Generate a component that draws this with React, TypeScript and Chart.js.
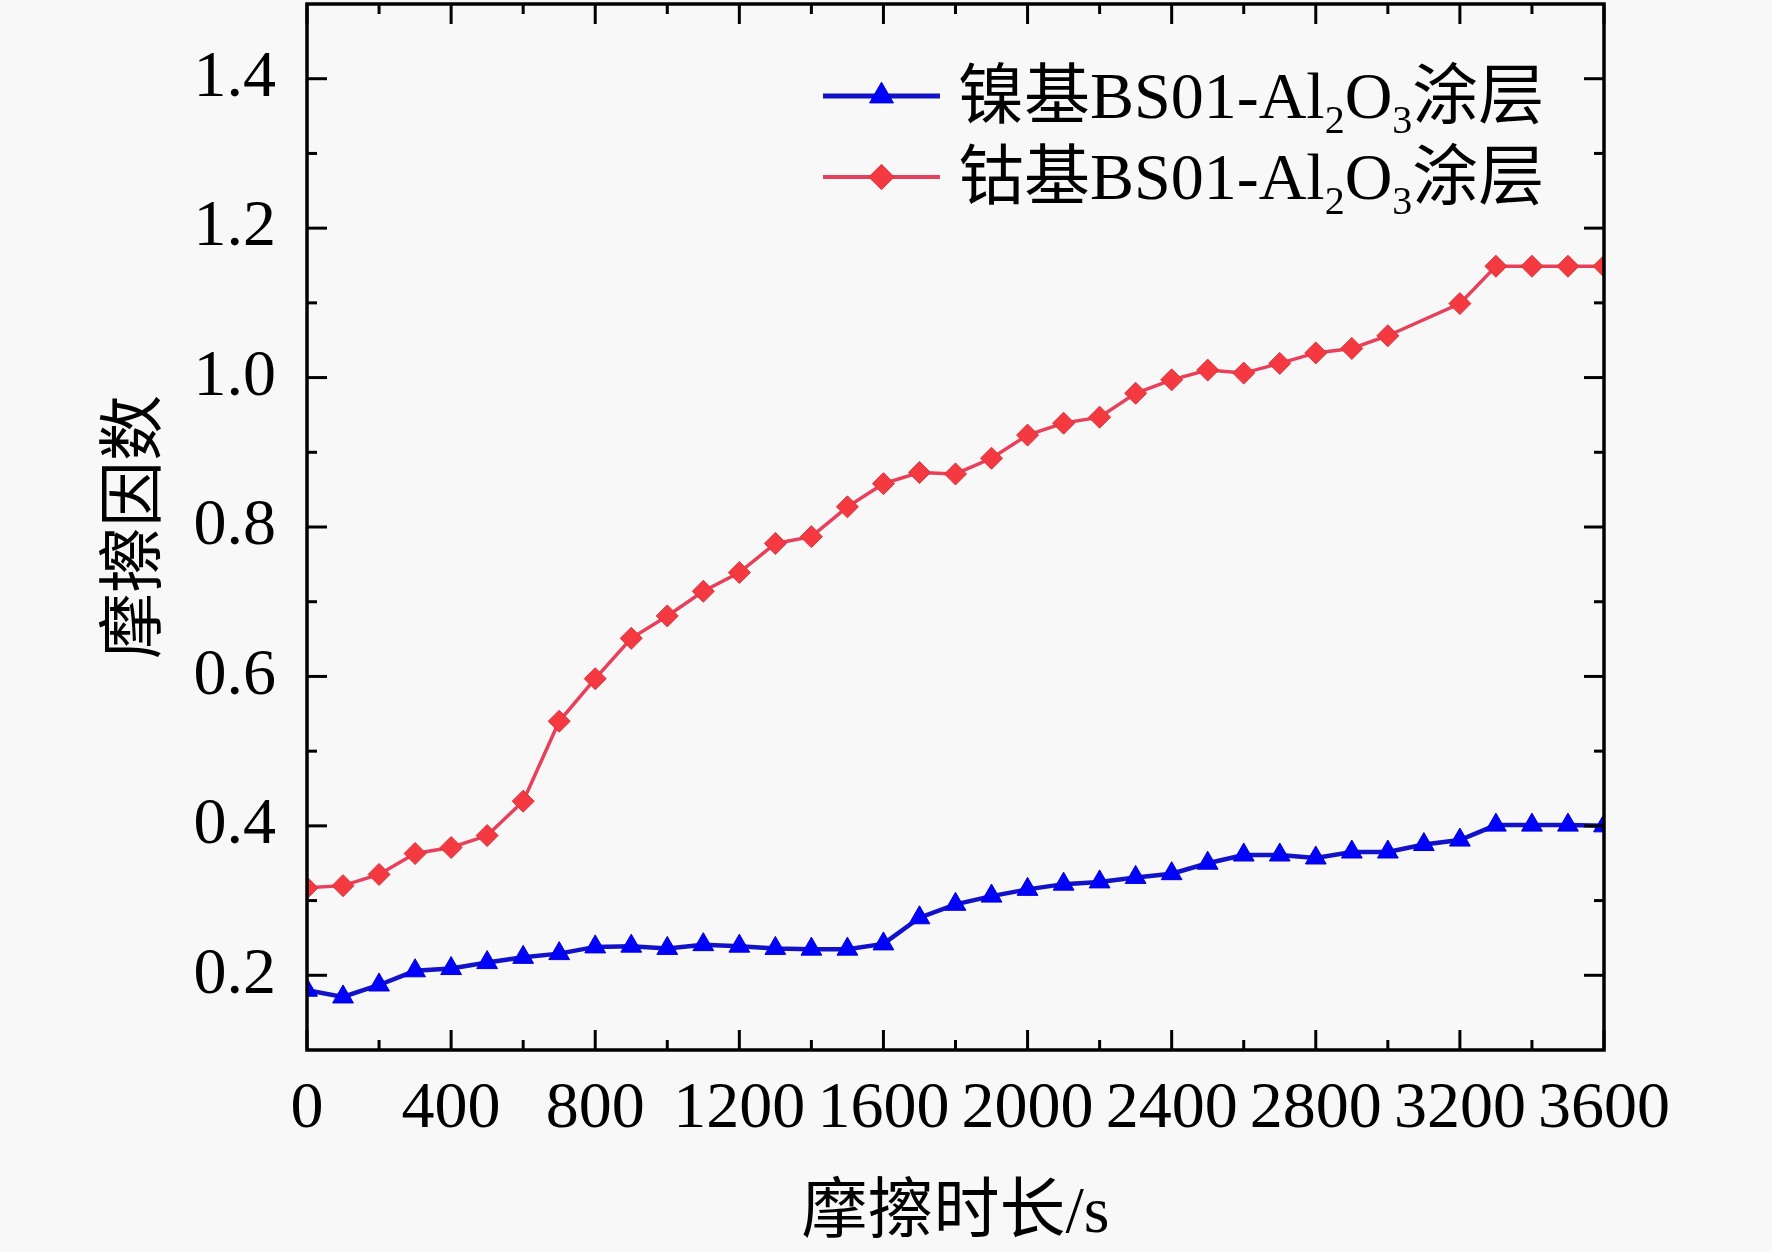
import { useEffect, useRef } from "react";
import { Chart, registerables, Plugin, ChartConfiguration } from "chart.js";

Chart.register(...registerables);

// 镍基 coating: friction coefficient every 100 s
const niTime = [0, 100, 200, 300, 400, 500, 600, 700, 800, 900, 1000, 1100, 1200, 1300, 1400, 1500, 1600, 1700, 1800, 1900, 2000, 2100, 2200, 2300, 2400, 2500, 2600, 2700, 2800, 2900, 3000, 3100, 3200, 3300, 3400, 3500, 3600];
const niFriction = [0.180, 0.171, 0.187, 0.206, 0.209, 0.217, 0.224, 0.229, 0.238, 0.239, 0.236, 0.241, 0.239, 0.236, 0.235, 0.235, 0.242, 0.277, 0.295, 0.306, 0.315, 0.322, 0.325, 0.331, 0.336, 0.350, 0.361, 0.361, 0.357, 0.365, 0.365, 0.375, 0.381, 0.401, 0.401, 0.401, 0.400];

// 钴基 coating (no sample at 3100 s)
const coTime = [0, 100, 200, 300, 400, 500, 600, 700, 800, 900, 1000, 1100, 1200, 1300, 1400, 1500, 1600, 1700, 1800, 1900, 2000, 2100, 2200, 2300, 2400, 2500, 2600, 2700, 2800, 2900, 3000, 3200, 3300, 3400, 3500, 3600];
const coFriction = [0.317, 0.320, 0.335, 0.363, 0.371, 0.387, 0.433, 0.540, 0.597, 0.651, 0.681, 0.714, 0.739, 0.778, 0.787, 0.827, 0.858, 0.873, 0.871, 0.892, 0.923, 0.939, 0.947, 0.979, 0.997, 1.010, 1.006, 1.019, 1.033, 1.039, 1.056, 1.099, 1.149, 1.149, 1.149, 1.149];

const xTicks = [0, 400, 800, 1200, 1600, 2000, 2400, 2800, 3200, 3600];
const xMinorTicks = [200, 600, 1000, 1400, 1800, 2200, 2600, 3000, 3400];
const yTicks = [0.2, 0.4, 0.6, 0.8, 1.0, 1.2, 1.4];
const yMinorTicks = [0.3, 0.5, 0.7, 0.9, 1.1, 1.3];

// "_n" marks a subscript digit
const seriesNames = ["镍基BS01-Al_2O_3涂层", "钴基BS01-Al_2O_3涂层"];
const xTitle = "摩擦时长/s";
const yTitle = "摩擦因数";

const FONT = '"Liberation Serif", "Times New Roman", "Noto Sans CJK SC", serif';
const FONT_SIZE = 66;

const niLine = "#1212c8";
const niMarker = "#0000ff";
const coLine = "#e8405a";
const coMarker = "#f43a40";

const framePlugin: Plugin = {
  id: "frame",
  beforeDraw(chart) {
    const { ctx, width, height } = chart;
    ctx.save();
    ctx.fillStyle = "#f8f8f8";
    ctx.fillRect(0, 0, width, height);
    ctx.restore();
  },
  afterDatasetsDraw(chart) {
    const { ctx, chartArea: a, scales } = chart;
    const xs = scales.x;
    const ys = scales.y;
    ctx.save();
    ctx.strokeStyle = "#000";
    ctx.lineWidth = 3;
    const seg = (x1: number, y1: number, x2: number, y2: number) => {
      ctx.beginPath();
      ctx.moveTo(x1, y1);
      ctx.lineTo(x2, y2);
      ctx.stroke();
    };
    const xTick = (v: number, len: number) => {
      const px = xs.getPixelForValue(v);
      seg(px, a.bottom, px, a.bottom - len);
      seg(px, a.top, px, a.top + len);
    };
    const yTick = (v: number, len: number) => {
      const py = ys.getPixelForValue(v);
      seg(a.left, py, a.left + len, py);
      seg(a.right, py, a.right - len, py);
    };
    xTicks.forEach((v) => xTick(v, 20));
    xMinorTicks.forEach((v) => xTick(v, 10));
    yTicks.forEach((v) => yTick(v, 20));
    yMinorTicks.forEach((v) => yTick(v, 10));
    ctx.lineWidth = 3.5;
    ctx.strokeRect(a.left, a.top, a.right - a.left, a.bottom - a.top);
    ctx.restore();
  },
  afterDraw(chart) {
    const { ctx, chartArea: a } = chart;
    const lineX1 = a.left + 516;
    const lineX2 = a.left + 633;
    const textX = a.left + 651;
    const rows = [a.top + 92, a.top + 173];
    ctx.save();
    chart.data.datasets.forEach((ds: any, i: number) => {
      const cy = rows[i];
      const mx = (lineX1 + lineX2) / 2;
      ctx.strokeStyle = ds.borderColor;
      ctx.lineWidth = ds.borderWidth + 0.5;
      ctx.beginPath();
      ctx.moveTo(lineX1, cy);
      ctx.lineTo(lineX2, cy);
      ctx.stroke();
      ctx.fillStyle = ds.pointBackgroundColor;
      ctx.strokeStyle = ds.pointBorderColor;
      ctx.lineWidth = 1;
      ctx.beginPath();
      const r = ds.pointRadius * 1.15;
      if (ds.pointStyle === "triangle") {
        ctx.moveTo(mx, cy - r);
        ctx.lineTo(mx + r * 0.866, cy + r * 0.5);
        ctx.lineTo(mx - r * 0.866, cy + r * 0.5);
      } else {
        ctx.moveTo(mx, cy - r);
        ctx.lineTo(mx + r, cy);
        ctx.lineTo(mx, cy + r);
        ctx.lineTo(mx - r, cy);
      }
      ctx.closePath();
      ctx.fill();
      ctx.stroke();

      // label with subscripts
      const parts = (ds.label as string).split(/_(\d)/);
      let x = textX;
      const base = cy + 22;
      ctx.fillStyle = "#000";
      ctx.textBaseline = "alphabetic";
      ctx.textAlign = "left";
      parts.forEach((p, k) => {
        if (!p) return;
        const isSub = k % 2 === 1;
        ctx.font = `${isSub ? 40 : FONT_SIZE}px ${FONT}`;
        ctx.fillText(p, x, isSub ? base + 15 : base);
        x += ctx.measureText(p).width;
      });
    });
    ctx.restore();
  },
};

export default function App() {
  const canvasRef = useRef<HTMLCanvasElement | null>(null);

  useEffect(() => {
    if (!canvasRef.current) return;

    const config: ChartConfiguration = {
      type: "line",
      data: {
        datasets: [
          {
            label: seriesNames[0],
            data: niTime.map((t, i) => ({ x: t, y: niFriction[i] })),
            borderColor: niLine,
            borderWidth: 4.5,
            pointStyle: "triangle",
            pointRadius: 12,
            pointBackgroundColor: niMarker,
            pointBorderColor: "#0000d8",
            pointBorderWidth: 1,
            clip: 0,
          } as any,
          {
            label: seriesNames[1],
            data: coTime.map((t, i) => ({ x: t, y: coFriction[i] })),
            borderColor: coLine,
            borderWidth: 3.5,
            pointStyle: "rectRot",
            pointRadius: 11,
            pointBackgroundColor: coMarker,
            pointBorderColor: "#d8343e",
            pointBorderWidth: 1,
            clip: 0,
          } as any,
        ],
      },
      options: {
        animation: false,
        responsive: true,
        maintainAspectRatio: false,
        devicePixelRatio: 1,
        layout: { autoPadding: false, padding: { left: 96, right: 168, top: 4, bottom: 0 } },
        plugins: {
          legend: { display: false },
          tooltip: { enabled: false },
        },
        scales: {
          x: {
            type: "linear",
            min: 0,
            max: 3600,
            afterBuildTicks: (s: any) => {
              s.ticks = xTicks.map((v) => ({ value: v }));
            },
            afterFit: (s: any) => {
              s.height = 202;
              s.paddingLeft = 0;
              s.paddingRight = 0;
            },
            ticks: {
              autoSkip: false,
              maxRotation: 0,
              padding: 12,
              color: "#000",
              font: { family: FONT, size: FONT_SIZE },
              callback: (v: any) => String(v),
            },
            grid: { display: false },
            border: { display: false },
            title: {
              display: true,
              text: xTitle,
              color: "#000",
              font: { family: FONT, size: FONT_SIZE },
              padding: { top: 0, bottom: -2 },
            },
          },
          y: {
            type: "linear",
            min: 0.1,
            max: 1.5,
            afterBuildTicks: (s: any) => {
              s.ticks = yTicks.map((v) => ({ value: v }));
            },
            afterFit: (s: any) => {
              s.width = 211;
              s.paddingTop = 0;
              s.paddingBottom = 0;
            },
            ticks: {
              autoSkip: false,
              padding: 23,
              color: "#000",
              font: { family: FONT, size: FONT_SIZE },
              callback: (v: any) => Number(v).toFixed(1),
            },
            grid: { display: false },
            border: { display: false },
            title: {
              display: true,
              text: yTitle,
              color: "#000",
              font: { family: FONT, size: FONT_SIZE },
              padding: { top: 2, bottom: 0 },
            },
          },
        },
      },
      plugins: [framePlugin],
    };

    const chart = new Chart(canvasRef.current, config);
    return () => {
      chart.destroy();
    };
  }, []);

  return (
    <div style={{ position: "absolute", left: 0, top: 0, width: 1772, height: 1252, background: "#f8f8f8" }}>
      <canvas ref={canvasRef}></canvas>
    </div>
  );
}
